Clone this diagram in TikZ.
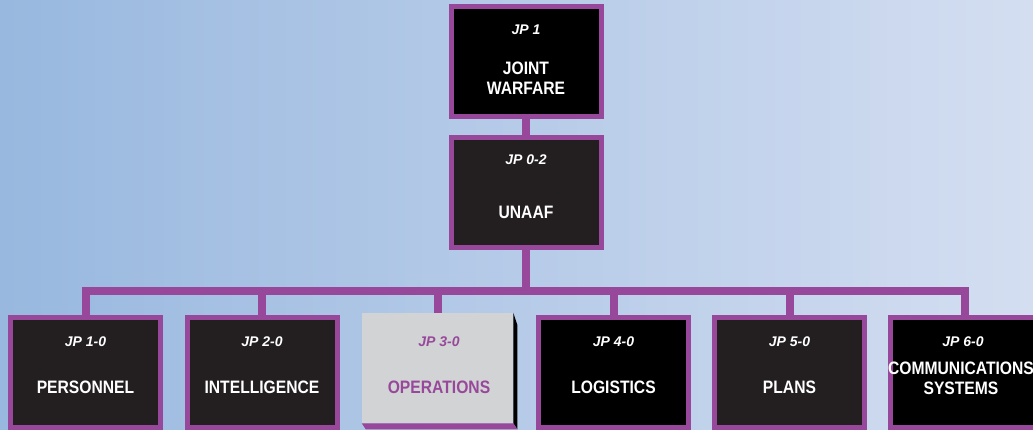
\documentclass[tikz,border=0pt]{standalone}
\usepackage{fontspec}
\setmainfont{Liberation Sans}
\newfontfamily\condfont{Liberation Sans}[FakeStretch=0.87]
\usepackage{tikz}
\usetikzlibrary{positioning, calc, backgrounds}

\definecolor{jppurple}{RGB}{152,72,154}
\definecolor{jpgrey}{RGB}{209,211,212}
\definecolor{jpdark}{RGB}{35,31,32}
\definecolor{skyleft}{RGB}{152,184,223}
\definecolor{skyright}{RGB}{212,222,241}

\tikzset{
  jpbox/.style={draw=jppurple, line width=3.75pt, fill=jpdark, rectangle,
    inner sep=0pt, minimum width=112.5pt, minimum height=82.5pt},
  jpgreybox/.style={fill=jpgrey, rectangle, inner sep=0pt,
    minimum width=113.25pt, minimum height=82.5pt},
  jptag/.style={font=\fontsize{10.5}{12}\selectfont\bfseries\itshape, text=white, inner sep=0pt},
  jptitle/.style={font=\fontsize{13.5}{15}\selectfont\condfont\bfseries, text=white,
    align=center, inner sep=0pt},
  link/.style={draw=jppurple, line width=6pt}
}

\begin{document}
\begin{tikzpicture}[x=0.75pt, y=-0.75pt]

    \useasboundingbox (0,0) rectangle (1033,429);
    \clip (0,0) rectangle (1033,429);

    % top of the tree
    \node (jp1) [jpbox, fill=black] at (526,61.5) {};
    \node (jp02) [jpbox] at (526,192.5) {};
    \coordinate (bus) at (526,291);

    % bottom row
    \node (jp10) [jpbox] at (85.5,372.5) {};
    \node (jp20) [jpbox] at (262,372.5) {};
    \node (jp30) [jpgreybox] at (437.5,368) {};
    \node (jp40) [jpbox, fill=black] at (613.5,372.5) {};
    \node (jp50) [jpbox] at (789.5,372.5) {};
    \node (jp60) [jpbox, fill=black] at (965,372.5) {};

    % bevel of the grey box
    \fill[black] (jp30.north east) -- ++(4,12) -- ($(jp30.south east)+(4,6)$) -- (jp30.south east) -- cycle;
    \fill[jppurple] (jp30.south west) -- (jp30.south east) -- ++(4,6) -- ($(jp30.south west)+(4,6)$) -- cycle;

    % sky and connections behind the boxes
    \begin{scope}[on background layer]
    \shade[left color=skyleft, right color=skyright] (0,0) rectangle (1033,429);
    \draw[link] (jp1.south) -- (jp02.north);
    \foreach \b in {jp10, jp20, jp30, jp40, jp50, jp60}
      \draw[link] (jp02.south) |- (bus) -| (\b.north);
    \end{scope}

    % texts
    \node (jp1-tag) [jptag] at (526,30) {JP 1};
    \node (jp1-title) [jptitle] at (526,78) {JOINT\\WARFARE};
    \node (jp02-tag) [jptag] at (526,160) {JP 0-2};
    \node (jp02-title) [jptitle] at (526,212) {UNAAF};

    \node (jp10-tag) [jptag] at (85.5,342) {JP 1-0};
    \node (jp10-title) [jptitle] at (85.5,387) {PERSONNEL};
    \node (jp20-tag) [jptag] at (262,342) {JP 2-0};
    \node (jp20-title) [jptitle] at (262,387) {INTELLIGENCE};
    \node (jp30-tag) [jptag, text=jppurple] at (439,342) {JP 3-0};
    \node (jp30-title) [jptitle, text=jppurple] at (439,387) {OPERATIONS};
    \node (jp40-tag) [jptag] at (613.5,342) {JP 4-0};
    \node (jp40-title) [jptitle] at (613.5,387) {LOGISTICS};
    \node (jp50-tag) [jptag] at (789.5,342) {JP 5-0};
    \node (jp50-title) [jptitle] at (789.5,387) {PLANS};
    \node (jp60-tag) [jptag] at (963,342) {JP 6-0};
    \node (jp60-title) [jptitle] at (961,378) {COMMUNICATIONS\\SYSTEMS};

\end{tikzpicture}
\end{document}
